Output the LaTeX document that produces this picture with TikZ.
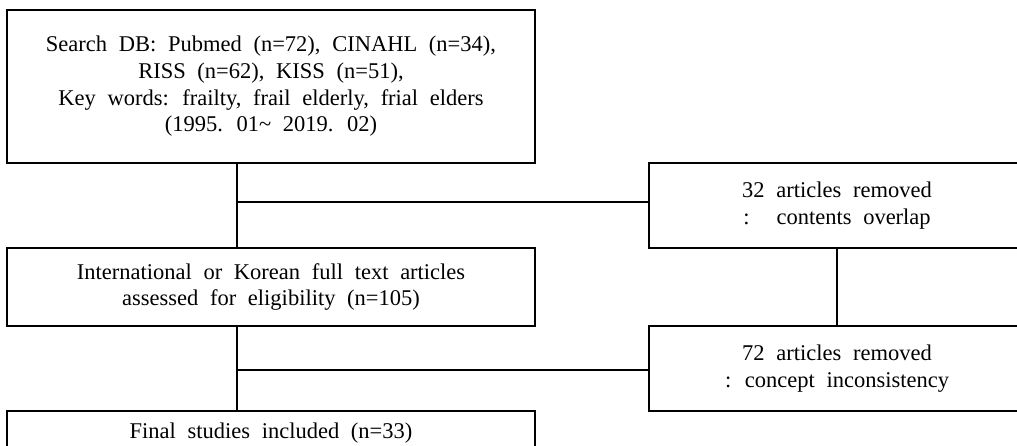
\documentclass[tikz,border=0pt]{standalone}
\usepackage{fontspec}
\setmainfont{Liberation Serif}
\usepackage{tikz}
\newcommand{\boxfont}{\fontsize{16}{19}\selectfont\spaceskip=0.52em plus 0.1em\relax}

\begin{document}
\begin{tikzpicture}[x=0.025cm, y=-0.025cm,
		flowbox/.style={draw, line width=2pt, align=center, inner sep=0pt, font=\boxfont},
		flowline/.style={line width=2pt}]
		%%%%% START %%%%%
		
		\useasboundingbox (0, 0) rectangle (1017, 446);
		\clip (0, 0) rectangle (1017, 446);
		
		\node[flowbox, minimum width=13.2cm, minimum height=3.825cm] (search) at (271, 86.5)
			{Search DB: Pubmed (n=72), CINAHL (n=34),\\ RISS (n=62), KISS (n=51),\\
			 Key words: frailty, frail elderly, frial elders\\ (1995. 01\textasciitilde{} 2019. 02)};
		\node[flowbox, minimum width=9.4cm, minimum height=2.125cm] (overlap) at (837, 205.5)
			{32 articles removed\\ :\hspace{1.2em}contents overlap};
		\node[flowbox, minimum width=13.2cm, minimum height=1.95cm] (assessed) at (271, 287)
			{International or Korean full text articles\\ assessed for eligibility (n=105)};
		\node[flowbox, minimum width=9.4cm, minimum height=2.125cm] (concept) at (837, 368.5)
			{72 articles removed\\ : concept inconsistency};
		\node[flowbox, minimum width=13.2cm, minimum height=1.1cm] (final) at (271, 433)
			{Final studies included (n=33)};
		
		\coordinate (splitA) at (237, 202);
		\coordinate (splitB) at (237, 370);
		
		\draw[flowline] (search.south -| splitA) -- (assessed.north -| splitA);
		\draw[flowline] (splitA) -- (splitA -| overlap.west);
		\draw[flowline] (overlap.south) -- (concept.north);
		\draw[flowline] (assessed.south -| splitB) -- (final.north -| splitB);
		\draw[flowline] (splitB) -- (splitB -| concept.west);
		
		%%%%% END %%%%%
	\end{tikzpicture}
\end{document}
